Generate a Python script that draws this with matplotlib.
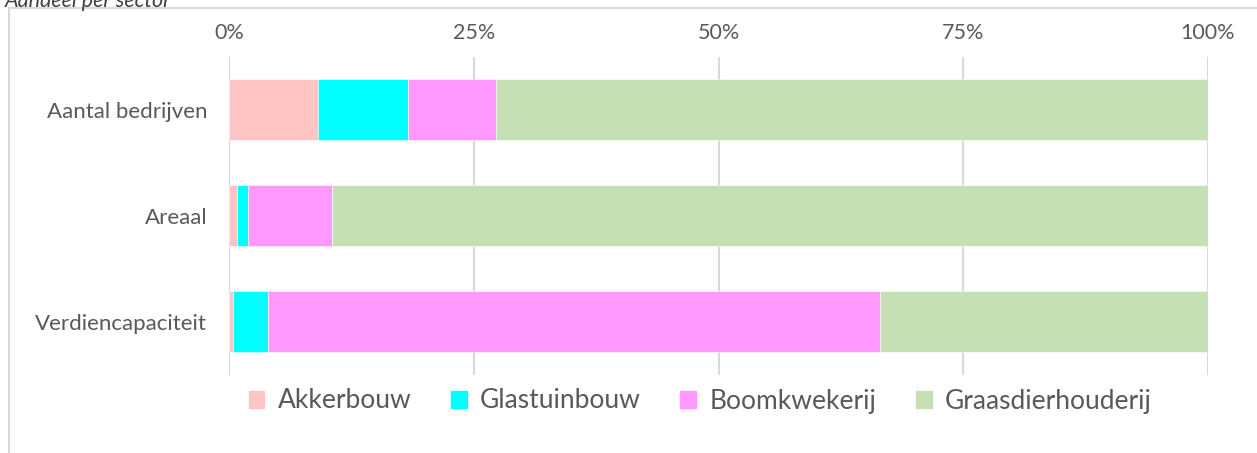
import matplotlib.pyplot as plt
from matplotlib.lines import Line2D
from matplotlib.ticker import PercentFormatter

plt.rcParams['font.family'] = ['Lato', 'DejaVu Sans']

# Data (share per sector, %)
categories = ["Aantal bedrijven", "Areaal", "Verdiencapaciteit"]
sectors = ["Akkerbouw", "Glastuinbouw", "Boomkwekerij", "Graasdierhouderij"]
akkerbouw = [9.0, 0.8, 0.4]
glastuinbouw = [9.2, 1.1, 3.5]
boomkwekerij = [9.0, 8.6, 62.6]
graasdierhouderij = [72.8, 89.5, 33.5]
colors = ["#ffc5c5", "#00ffff", "#ff99ff", "#c5e0b4"]

series = [akkerbouw, glastuinbouw, boomkwekerij, graasdierhouderij]
gray = "#595959"
grid = "#d9d9d9"

fig = plt.figure(figsize=(12.57, 4.53), dpi=100)
ax = fig.add_axes([229.5 / 1257, 1 - 374.7 / 453, 978.5 / 1257, 318.2 / 453])

ypos = list(range(len(categories)))
left = [0.0] * len(categories)
for name, vals, col in zip(sectors, series, colors):
    ax.barh(ypos, vals, left=left, height=0.57, color=col, label=name,
            edgecolor="white", linewidth=0.4, zorder=3)
    left = [l + v for l, v in zip(left, vals)]

ax.set_xlim(0, 100)
ax.set_ylim(2.5, -0.5)
ax.set_yticks(ypos)
ax.set_yticklabels(categories)
ax.set_xticks([0, 25, 50, 75, 100])
ax.xaxis.set_major_formatter(PercentFormatter(decimals=0))
ax.xaxis.tick_top()
ax.tick_params(axis="x", length=0, pad=10, labelsize=15.5, colors=gray)
ax.tick_params(axis="y", length=0, pad=16, labelsize=16, colors=gray)
ax.grid(axis="x", color=grid, linewidth=1.5, zorder=0)
for s in ax.spines.values():
    s.set_visible(False)

handles = [plt.Rectangle((0, 0), 1, 1, color=c) for c in colors]
fig.legend(handles, sectors, loc="center", bbox_to_anchor=(0.557, 1 - 401 / 453),
           ncol=4, frameon=False, fontsize=19, labelcolor=gray,
           handlelength=0.6, handleheight=0.6, handletextpad=0.5,
           columnspacing=1.5)

# chart area border (top and left visible)
fig.add_artist(Line2D([9 / 1257, 1.0], [1 - 8 / 453] * 2, color=grid, lw=1.5))
fig.add_artist(Line2D([9 / 1257] * 2, [0, 1 - 8 / 453], color=grid, lw=1.5))

fig.text(5 / 1257, 1 - 7 / 453, "Aandeel per sector", style="italic",
         fontsize=15.5, color="#404040", va="baseline", ha="left")

fig.savefig("out.png", dpi=100)
